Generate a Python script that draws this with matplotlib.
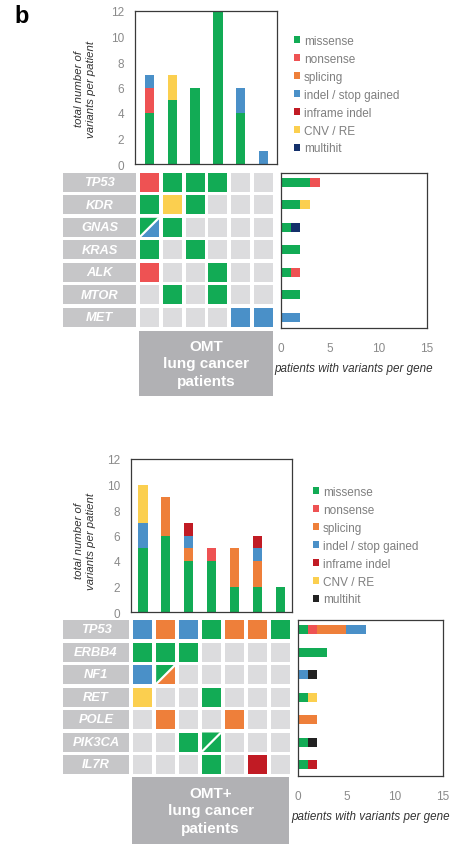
import numpy as np
import matplotlib.pyplot as plt
from matplotlib.patches import Rectangle, Polygon, Patch

plt.rcParams['font.family'] = ['Liberation Sans', 'DejaVu Sans']

# mutation classes (stacking and legend order)
classes = ["missense", "nonsense", "splicing", "indel / stop gained",
           "inframe indel", "CNV / RE", "multihit"]
codes = ["M", "N", "S", "I", "F", "C", "H"]

# ---------------- OMT cohort ----------------
omt_genes = ["TP53", "KDR", "GNAS", "KRAS", "ALK", "MTOR", "MET"]

# variants per patient, by class
omt_pat_missense = [4, 5, 6, 12, 4, 0]
omt_pat_nonsense = [2, 0, 0, 0, 0, 0]
omt_pat_splicing = [0, 0, 0, 0, 0, 0]
omt_pat_indel = [1, 0, 0, 0, 2, 1]
omt_pat_inframe = [0, 0, 0, 0, 0, 0]
omt_pat_cnv = [0, 2, 0, 0, 0, 0]
omt_pat_multihit = [0, 0, 0, 0, 0, 0]

# gene x patient matrix ("A/B" = two hits in one cell)
omt_matrix = [
    ["N", "M", "M", "M", "", ""],     # TP53
    ["M", "C", "M", "", "", ""],      # KDR
    ["M/I", "M", "", "", "", ""],     # GNAS
    ["M", "", "M", "", "", ""],       # KRAS
    ["N", "", "", "M", "", ""],       # ALK
    ["", "M", "", "M", "", ""],       # MTOR
    ["", "", "", "", "I", "I"],       # MET
]

# patients with variants per gene, by class
omt_gene_missense = [3, 2, 1, 2, 1, 2, 0]
omt_gene_nonsense = [1, 0, 0, 0, 1, 0, 0]
omt_gene_splicing = [0, 0, 0, 0, 0, 0, 0]
omt_gene_indel = [0, 0, 0, 0, 0, 0, 2]
omt_gene_inframe = [0, 0, 0, 0, 0, 0, 0]
omt_gene_cnv = [0, 1, 0, 0, 0, 0, 0]
omt_gene_multihit = [0, 0, 1, 0, 0, 0, 0]

# ---------------- OMT+ cohort ----------------
plus_genes = ["TP53", "ERBB4", "NF1", "RET", "POLE", "PIK3CA", "IL7R"]

plus_pat_missense = [5, 6, 4, 4, 2, 2, 2]
plus_pat_nonsense = [0, 0, 0, 1, 0, 0, 0]
plus_pat_splicing = [0, 3, 1, 0, 3, 2, 0]
plus_pat_indel = [2, 0, 1, 0, 0, 1, 0]
plus_pat_inframe = [0, 0, 1, 0, 0, 1, 0]
plus_pat_cnv = [3, 0, 0, 0, 0, 0, 0]
plus_pat_multihit = [0, 0, 0, 0, 0, 0, 0]

plus_matrix = [
    ["I", "S", "I", "M", "S", "S", "M"],   # TP53
    ["M", "M", "M", "", "", "", ""],       # ERBB4
    ["I", "M/S", "", "", "", "", ""],      # NF1
    ["C", "", "", "M", "", "", ""],        # RET
    ["", "S", "", "", "S", "", ""],        # POLE
    ["", "", "M", "M/M", "", "", ""],      # PIK3CA
    ["", "", "", "M", "", "F", ""],        # IL7R
]

plus_gene_missense = [1, 3, 0, 1, 0, 1, 1]
plus_gene_nonsense = [1, 0, 0, 0, 0, 0, 0]
plus_gene_splicing = [3, 0, 0, 0, 2, 0, 0]
plus_gene_indel = [2, 0, 1, 0, 0, 0, 0]
plus_gene_inframe = [0, 0, 0, 0, 0, 0, 1]
plus_gene_cnv = [0, 0, 0, 1, 0, 0, 0]
plus_gene_multihit = [0, 0, 1, 0, 0, 1, 0]

# colours
base_colors = {"M": "#12ab55", "N": "#ee5253", "S": "#ee7f3a", "I": "#4a90c8",
               "F": "#c11b24", "C": "#fbcf4f"}
omt_palette = dict(base_colors, H="#14306b")
plus_palette = dict(base_colors, H="#222222")
EMPTY = "#dcdcde"
LABEL_BG = "#c6c6c8"
COHORT_BG = "#b1b1b4"
TICK_GRAY = "#8a8a8a"
SPINE = "#3a3a3a"

W, H = 458, 845
fig = plt.figure(figsize=(W / 100, H / 100), dpi=100)


def px_axes(x0, y0, x1, y1):
    return fig.add_axes([x0 / W, 1 - y1 / H, (x1 - x0) / W, (y1 - y0) / H])


def frame(ax):
    for s in ax.spines.values():
        s.set_color(SPINE)
        s.set_linewidth(0.9)


def draw_panel(genes, matrix, pat_counts, gene_counts, palette, cohort,
               col0, col_step, row0, row_step, bar_box, label_x, side_box,
               cohort_box, legend_xy, ylabel_y):
    n_pat = len(matrix[0])
    n_gene = len(genes)
    cols = np.arange(n_pat)
    rows = np.arange(n_gene)

    # stacked bars: total variants per patient
    x0, y0, x1, y1 = bar_box
    ax = px_axes(*bar_box)
    base = np.zeros(n_pat)
    for code, vals in zip(codes, pat_counts):
        ax.bar(cols, vals, width=0.42, bottom=base, color=palette[code], linewidth=0)
        base += np.array(vals)
    ax.set_xlim((x0 - col0) / col_step, (x1 - col0) / col_step)
    ax.set_ylim(0, 12)
    ax.set_yticks(range(0, 13, 2))
    ax.set_xticks([])
    ax.tick_params(axis='y', length=0, pad=8, labelsize=8.5, labelcolor=TICK_GRAY)
    frame(ax)
    fig.text(85 / W, 1 - ylabel_y / H, "total number of\nvariants per patient",
             rotation=90, ha='center', va='center', fontsize=8.2,
             style='italic', color='#333333', linespacing=1.3)

    # oncoprint grid with gene labels
    gx0, gx1 = label_x[0], col0 + (n_pat - 0.5) * col_step
    gy0, gy1 = row0 - 0.5 * row_step, row0 + (n_gene - 0.5) * row_step
    gax = px_axes(gx0, gy0, gx1, gy1)
    gax.set_xlim((gx0 - col0) / col_step, (gx1 - col0) / col_step)
    gax.set_ylim((gy1 - row0) / row_step, (gy0 - row0) / row_step)
    gax.axis('off')
    cw, ch = 19 / col_step, 19 / row_step
    lx0 = (label_x[0] - col0) / col_step
    lx1 = (label_x[1] - col0) / col_step
    for r, gene in zip(rows, genes):
        gax.add_patch(Rectangle((lx0, r - ch / 2), lx1 - lx0, ch,
                                facecolor=LABEL_BG, edgecolor='none'))
        gax.text((lx0 + lx1) / 2, r, gene, ha='center', va='center',
                 color='white', fontsize=9.3, weight='bold', style='italic')
        for c in cols:
            code = matrix[r][c]
            left, right = c - cw / 2, c + cw / 2
            top, bot = r - ch / 2, r + ch / 2
            if not code:
                gax.add_patch(Rectangle((left, top), cw, ch, facecolor=EMPTY,
                                        edgecolor='none'))
            elif '/' in code:
                a, b = code.split('/')
                gax.add_patch(Polygon([(left, top), (right, top), (left, bot)],
                                      facecolor=palette[a], edgecolor='none'))
                gax.add_patch(Polygon([(right, top), (right, bot), (left, bot)],
                                      facecolor=palette[b], edgecolor='none'))
                gax.plot([left, right], [bot, top], color='white', lw=1.6,
                         solid_capstyle='butt')
            else:
                gax.add_patch(Rectangle((left, top), cw, ch,
                                        facecolor=palette[code], edgecolor='none'))

    # horizontal bars: patients with variants per gene
    sx0, sy0, sx1, sy1 = side_box
    sax = px_axes(*side_box)
    base = np.zeros(n_gene)
    for code, vals in zip(codes, gene_counts):
        sax.barh(rows, vals, left=base, height=0.4, color=palette[code], linewidth=0)
        base += np.array(vals)
    sax.set_xlim(0, 15)
    sax.set_ylim((sy1 - row0) / row_step, (sy0 - row0) / row_step)
    sax.set_xticks([0, 5, 10, 15])
    sax.set_yticks([])
    sax.tick_params(axis='x', length=0, pad=10, labelsize=8.5, labelcolor=TICK_GRAY)
    sax.set_xlabel("patients with variants per gene", fontsize=8.4,
                   style='italic', color='#333333', labelpad=6)
    frame(sax)

    # cohort caption box
    cax = px_axes(*cohort_box)
    cax.set_facecolor(COHORT_BG)
    cax.set_xticks([])
    cax.set_yticks([])
    for s in cax.spines.values():
        s.set_visible(False)
    cax.text(0.5, 0.5, cohort, transform=cax.transAxes, ha='center', va='center',
             color='white', fontsize=11, weight='bold', linespacing=1.3)

    # legend
    handles = [Patch(facecolor=palette[c], edgecolor='none', label=l)
               for c, l in zip(codes, classes)]
    fig.legend(handles=handles, loc='upper left',
               bbox_to_anchor=(legend_xy[0] / W, 1 - legend_xy[1] / H),
               frameon=False, fontsize=8.5, labelcolor='#7f7f7f',
               handlelength=0.55, handleheight=0.55, handletextpad=0.3,
               labelspacing=0.5, borderpad=0, borderaxespad=0)


draw_panel(omt_genes, omt_matrix,
           [omt_pat_missense, omt_pat_nonsense, omt_pat_splicing, omt_pat_indel,
            omt_pat_inframe, omt_pat_cnv, omt_pat_multihit],
           [omt_gene_missense, omt_gene_nonsense, omt_gene_splicing, omt_gene_indel,
            omt_gene_inframe, omt_gene_cnv, omt_gene_multihit],
           omt_palette, "OMT\nlung cancer\npatients",
           col0=149.5, col_step=22.8, row0=183.3, row_step=22.5,
           bar_box=(135, 12, 277, 165), label_x=(63, 136),
           side_box=(281, 174, 427, 329), cohort_box=(139, 332, 273, 397),
           legend_xy=(294, 36), ylabel_y=89)

draw_panel(plus_genes, plus_matrix,
           [plus_pat_missense, plus_pat_nonsense, plus_pat_splicing, plus_pat_indel,
            plus_pat_inframe, plus_pat_cnv, plus_pat_multihit],
           [plus_gene_missense, plus_gene_nonsense, plus_gene_splicing, plus_gene_indel,
            plus_gene_inframe, plus_gene_cnv, plus_gene_multihit],
           plus_palette, "OMT+\nlung cancer\npatients",
           col0=142.7, col_step=22.95, row0=630.5, row_step=22.5,
           bar_box=(131, 460, 292, 613), label_x=(63, 129),
           side_box=(298, 621, 443, 777), cohort_box=(132, 778, 289, 845),
           legend_xy=(313, 487), ylabel_y=541)

fig.text(14 / W, 1 - 5 / H, "b", fontsize=17, weight='bold', va='top', ha='left')

fig.savefig("out.png", dpi=100)
